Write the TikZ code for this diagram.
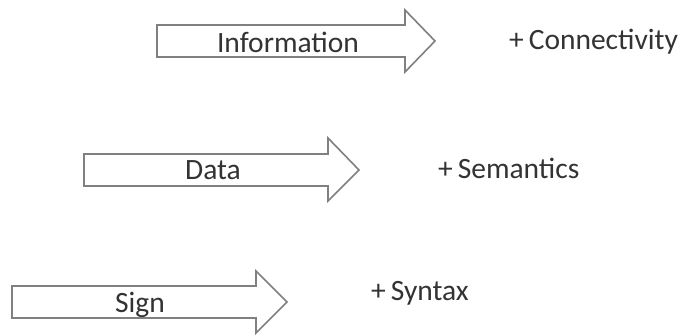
\documentclass[tikz,border=0pt]{standalone}
\usepackage{fontspec}
\setmainfont{Carlito}
\definecolor{arrowgray}{HTML}{808080}
\definecolor{textgray}{HTML}{333333}
\begin{document}
\begin{tikzpicture}[x=1pt,y=-1pt,
  bigarrow/.style={draw=arrowgray,line width=1.6pt,fill=white,line join=miter},
  lbl/.style={inner sep=0pt,text=textgray,font=\fontsize{29.5}{35}\selectfont,anchor=base},
  plus/.style={inner sep=0pt,text=textgray,font=\fontsize{29.5}{35}\selectfont,anchor=base west}]
\useasboundingbox[fill=white] (0,0) rectangle (685,335);
% Information arrow
\draw[bigarrow] (157,25) -- (405,25) -- (405,10) -- (435,41) -- (405,72) -- (405,57) -- (157,57) -- cycle;
\node[lbl] (info) at (288,52) {Information};
\node[plus] (conn) at (509,49) {+\,Connectivity};
% Data arrow
\draw[bigarrow] (84,154) -- (328,154) -- (328,138) -- (359,170) -- (328,201) -- (328,186) -- (84,186) -- cycle;
\node[lbl] (data) at (213,179) {Data};
\node[plus] (sem) at (438,178) {+\,Semantics};
% Sign arrow
\draw[bigarrow] (12,286) -- (256,286) -- (256,271) -- (287,302) -- (256,333) -- (256,318) -- (12,318) -- cycle;
\node[lbl] (sign) at (140,312) {Sign};
\node[plus] (syn) at (371,300) {+\,Syntax};
\end{tikzpicture}
\end{document}
